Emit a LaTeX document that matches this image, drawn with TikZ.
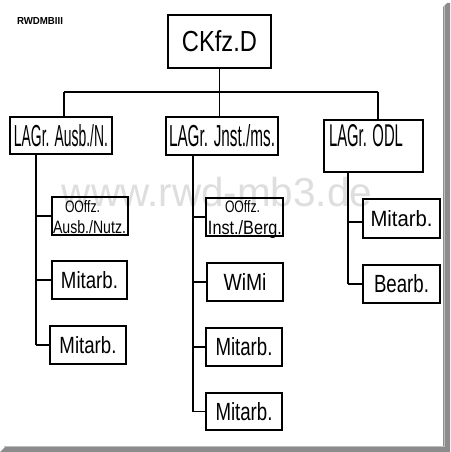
\documentclass[tikz,border=0pt]{standalone}
\usepackage{fontspec}
\setmainfont{Liberation Sans}
\usepackage{graphicx}
\newcommand{\hw}[3]{\resizebox{#1pt}{#2pt}{#3}}
\definecolor{framegray}{RGB}{140,140,140}
\definecolor{wmgray}{RGB}{222,222,222}
\tikzset{
  box/.style={draw=black, line width=1.6pt, rectangle, inner sep=0pt, align=center},
  conn/.style={draw=black, line width=1.3pt},
  txt/.style={inner sep=0pt},
}
\begin{document}
\begin{tikzpicture}[x=1pt,y=-1pt]
\useasboundingbox (0,0) rectangle (450,452);
\fill[white] (0,0) rectangle (450,452);
% frame shadow
\fill[framegray] (443,7) -- (447,3) -- (450,3) -- (450,452) -- (0,452) -- (5,447) -- (443,447) -- cycle;
\draw[gray!50, line width=0.8pt] (444.5,6) -- (444.5,446) -- (4,446);
% watermark
\node[text=wmgray, anchor=base, inner sep=0pt] (wm) at (217,206) {\resizebox{310pt}{!}{www.rwd-mb3.de}};
% label
\node[txt] (tag) at (40,21) {\hw{46}{7}{\bfseries RWDMBIII}};
% top
\node[box, minimum width=103, minimum height=53] (top) at (219.5,41.5) {\hw{75}{21}{CKfz.D}};
% level 2
\node[box, minimum width=102, minimum height=37] (L1) at (61,135.5) {\hw{94}{22}{LAGr. Ausb./N.}};
\node[box, minimum width=112, minimum height=38] (M1) at (222,136) {\hw{106}{22}{LAGr. Jnst./ms.}};
\node[box, minimum width=99, minimum height=52] (R1) at (373.5,146) {};
\node[txt] (R1t) at (366,136) {\hw{74}{22}{LAGr. ODL}};
% left children
\node[box, minimum width=76, minimum height=38] (LA) at (90,216) {};
\node[txt, anchor=base] (LAa) at (82.5,212.5) {\hw{35}{12}{OOffz.}};
\node[txt, anchor=base] (LAb) at (89.5,233) {\hw{73}{13}{Ausb./Nutz.}};
\node[box, minimum width=75, minimum height=38] (LB) at (89.5,280) {\hw{57}{17}{Mitarb.}};
\node[box, minimum width=76, minimum height=38] (LC) at (88,345) {\hw{57}{17}{Mitarb.}};
% middle children
\node[box, minimum width=77, minimum height=38] (MA) at (244.5,217) {};
\node[txt, anchor=base] (MAa) at (242.5,212.5) {\hw{35}{12}{OOffz.}};
\node[txt, anchor=base] (MAb) at (245,234) {\hw{74}{14}{Inst./Berg.}};
\node[box, minimum width=76, minimum height=38] (MB) at (245,282) {\hw{43}{17}{WiMi}};
\node[box, minimum width=76, minimum height=38] (MC) at (244,347) {\hw{57}{18}{Mitarb.}};
\node[box, minimum width=76, minimum height=37] (MD) at (244,411.5) {\hw{57}{18}{Mitarb.}};
% right children
\node[box, minimum width=77, minimum height=39] (RA) at (401.5,218.5) {\hw{62}{16}{Mitarb.}};
\node[box, minimum width=77, minimum height=38] (RB) at (401.5,284) {\hw{55}{18}{Bearb.}};
% connectors top
\coordinate (hl) at (64,92);
\coordinate (hr) at (378,92);
\draw[conn] (hl) -- (hr);
\draw[conn] (top.south) -- (top.south |- hl);
\draw[conn] (hl) -- (hl |- L1.north);
\draw[conn] (top.south |- hl) -- (top.south |- M1.north);
\draw[conn] (hr) -- (hr |- R1.north);
% left trunk
\coordinate (tl) at (36,154);
\draw[conn] (tl) -- (tl |- LC.west);
\draw[conn] (tl |- LA.west) -- (LA.west);
\draw[conn] (tl |- LB.west) -- (LB.west);
\draw[conn] (tl |- LC.west) -- (LC.west);
% middle trunk
\coordinate (tm) at (193,155);
\draw[conn] (tm) -- (tm |- MD.west);
\draw[conn] (tm |- MA.west) -- (MA.west);
\draw[conn] (tm |- MB.west) -- (MB.west);
\draw[conn] (tm |- MC.west) -- (MC.west);
\draw[conn] (tm |- MD.west) -- (MD.west);
% right trunk
\coordinate (tr) at (348,172);
\draw[conn] (tr) -- (tr |- RB.west);
\draw[conn] (tr |- RA.west) ++(0,3.5) -- ([yshift=-3.5pt]RA.west);
\draw[conn] (tr |- RB.west) -- (RB.west);
\end{tikzpicture}
\end{document}
